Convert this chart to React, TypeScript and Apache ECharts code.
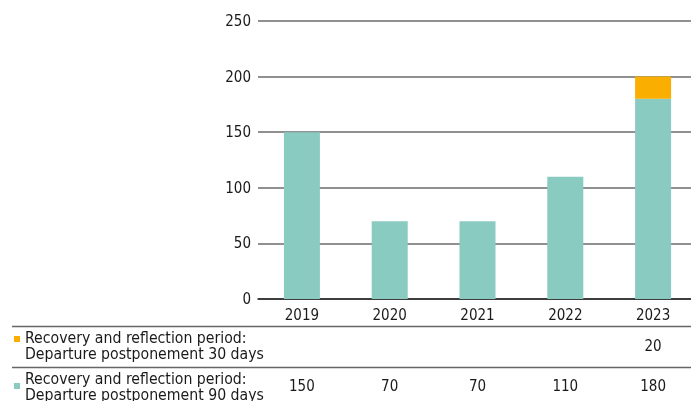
import React, { useEffect, useRef } from "react";
import * as echarts from "echarts";

const categories = ["2019", "2020", "2021", "2022", "2023"];
const postponement90 = [150, 70, 70, 110, 180];
const postponement30: (number | null)[] = [null, null, null, null, 20];
const yTicks = [0, 50, 100, 150, 200, 250];
const rowLabel30 = ["Recovery and reflection period:", "Departure postponement 30 days"];
const rowLabel90 = ["Recovery and reflection period:", "Departure postponement 90 days"];

const TEAL = "#89cbc0";
const ORANGE = "#f9ae00";
const FONT = "'Liberation Sans Narrow', 'DejaVu Sans Condensed', Roboto, sans-serif";
const TEXT = "#1a1a1a";

export default function App() {
  const ref = useRef<HTMLDivElement>(null);
  useEffect(() => {
    if (!ref.current) return;
    const chart = echarts.init(ref.current, null, { renderer: "svg" });
    const tableAxis = (values: (number | null)[], offset: number) => ({
      type: "category" as const,
      data: categories,
      gridIndex: 0,
      position: "bottom" as const,
      offset,
      axisLine: { show: false },
      axisTick: { show: false },
      splitLine: { show: false },
      axisLabel: {
        fontFamily: FONT,
        fontSize: 15,
        color: TEXT,
        margin: 0,
        verticalAlign: "middle" as const,
        formatter: (_v: string, i: number) => (values[i] == null ? "" : String(values[i])),
      },
    });
    const labelLines = (lines: string[], y0: number) =>
      lines.map((t, i) => ({
        type: "text" as const,
        x: 25,
        y: y0 + i * 16,
        style: {
          text: t,
          font: `15.7px ${FONT}`,
          fill: TEXT,
          lineHeight: 15,
          verticalAlign: "middle",
        },
      }));
    chart.setOption({
      animation: false,
      grid: { left: 258, top: 21, width: 439, height: 278, containLabel: false },
      xAxis: [
        {
          type: "category",
          data: categories,
          axisLine: { lineStyle: { color: "#222", width: 1.5 } },
          axisTick: { show: false },
          axisLabel: {
            fontFamily: FONT,
            fontSize: 15,
            color: TEXT,
            margin: 8,
          },
        },
        tableAxis(postponement30, 47),
        tableAxis(postponement90, 87),
      ],
      yAxis: {
        type: "value",
        min: yTicks[0],
        max: yTicks[yTicks.length - 1],
        interval: 50,
        axisLine: { show: false },
        axisTick: { show: false },
        splitLine: { lineStyle: { color: "#6b6b6b", width: 1.5 } },
        axisLabel: { fontFamily: FONT, fontSize: 15, color: TEXT, margin: 7 },
      },
      series: [
        {
          name: rowLabel90.join(" "),
          type: "bar",
          stack: "total",
          data: postponement90,
          barWidth: 36,
          itemStyle: { color: TEAL },
        },
        {
          name: rowLabel30.join(" "),
          type: "bar",
          stack: "total",
          data: postponement30,
          barWidth: 36,
          itemStyle: { color: ORANGE },
        },
      ],
      graphic: [
        { type: "line", shape: { x1: 12, y1: 326.5, x2: 697, y2: 326.5 }, style: { stroke: "#666", lineWidth: 1.5 } },
        { type: "line", shape: { x1: 12, y1: 367.5, x2: 697, y2: 367.5 }, style: { stroke: "#666", lineWidth: 1.5 } },
        { type: "rect", shape: { x: 14, y: 336, width: 6, height: 6 }, style: { fill: ORANGE } },
        { type: "rect", shape: { x: 14, y: 383, width: 6, height: 6 }, style: { fill: TEAL } },
        ...labelLines(rowLabel30, 337),
        ...labelLines(rowLabel90, 378),
      ],
    });
    return () => chart.dispose();
  }, []);
  return (
    <div style={{ position: "fixed", left: 0, top: 0, width: 691, height: 401, overflow: "hidden" }}>
      <div ref={ref} style={{ width: 697, height: 401 }} />
    </div>
  );
}
